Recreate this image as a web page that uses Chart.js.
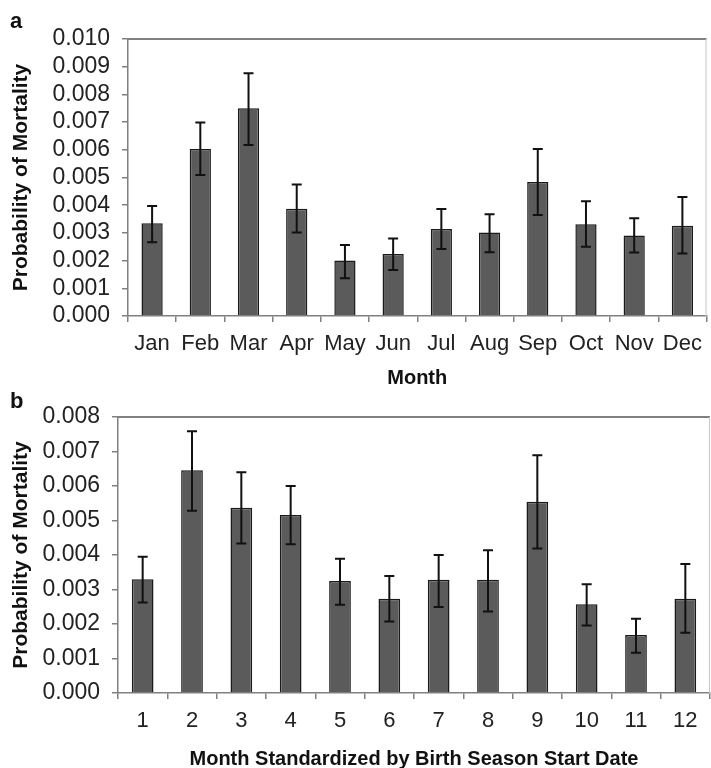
<!DOCTYPE html>
<html>
<head>
<meta charset="utf-8">
<script src="https://cdn.jsdelivr.net/npm/chart.js@4"></script>
<style>
  body { margin: 0; background: #fff; overflow: hidden; }
  .panel { position: absolute; left: 0; width: 711px; }
</style>
</head>
<body>
<div class="panel" style="top:0;height:390px"><canvas id="chartA" width="711" height="390"></canvas></div>
<div class="panel" style="top:390px;height:381px"><canvas id="chartB" width="711" height="381"></canvas></div>
<script>
// ----- panel a: calendar month -----
const months = ['Jan', 'Feb', 'Mar', 'Apr', 'May', 'Jun', 'Jul', 'Aug', 'Sep', 'Oct', 'Nov', 'Dec'];
const mortalityA = [0.00335, 0.00603, 0.00750, 0.00387, 0.00200, 0.00224, 0.00314, 0.00301, 0.00484, 0.00331, 0.00291, 0.00326];
const upperA = [0.00397, 0.00699, 0.00876, 0.00475, 0.00256, 0.00280, 0.00386, 0.00367, 0.00603, 0.00414, 0.00353, 0.00430];
const lowerA = [0.00266, 0.00509, 0.00617, 0.00301, 0.00136, 0.00166, 0.00242, 0.00230, 0.00365, 0.00250, 0.00229, 0.00226];
const yMaxA = 0.010;

// ----- panel b: month standardized by birth season -----
const birthMonths = ['1', '2', '3', '4', '5', '6', '7', '8', '9', '10', '11', '12'];
const mortalityB = [0.00330, 0.00646, 0.00537, 0.00516, 0.00325, 0.00273, 0.00328, 0.00328, 0.00554, 0.00257, 0.00168, 0.00273];
const upperB = [0.00395, 0.00759, 0.00640, 0.00600, 0.00389, 0.00339, 0.00400, 0.00414, 0.00689, 0.00315, 0.00215, 0.00374];
const lowerB = [0.00262, 0.00528, 0.00433, 0.00431, 0.00256, 0.00207, 0.00249, 0.00236, 0.00419, 0.00196, 0.00117, 0.00175];
const yMaxB = 0.008;

const yStep = 0.001;
const FONT = "'Liberation Sans', Arial, sans-serif";

// error bars drawn through the y scale
const errorBars = {
    id: 'errorBars',
    afterDatasetsDraw(chart, args, opts) {
        const ctx = chart.ctx;
        const y = chart.scales.y;
        const meta = chart.getDatasetMeta(0);
        ctx.save();
        ctx.strokeStyle = '#111';
        ctx.lineWidth = 2;
        meta.data.forEach((bar, i) => {
            const top = y.getPixelForValue(opts.upper[i]);
            const bot = y.getPixelForValue(opts.lower[i]);
            ctx.beginPath();
            ctx.moveTo(bar.x, top); ctx.lineTo(bar.x, bot);
            ctx.moveTo(bar.x - 5, top); ctx.lineTo(bar.x + 5, top);
            ctx.moveTo(bar.x - 5, bot); ctx.lineTo(bar.x + 5, bot);
            ctx.stroke();
        });
        ctx.restore();
    }
};

// top/right frame and the panel letter
const frame = {
    id: 'frame',
    afterDraw(chart, args, opts) {
        const ctx = chart.ctx;
        const a = chart.chartArea;
        ctx.save();
        ctx.strokeStyle = '#808080';
        ctx.lineWidth = 2;
        ctx.beginPath();
        ctx.moveTo(a.left, a.top); ctx.lineTo(a.right, a.top);
        ctx.stroke();
        ctx.strokeStyle = '#c8c8c8';
        ctx.lineWidth = 1;
        ctx.beginPath();
        ctx.moveTo(a.right - 0.5, a.top); ctx.lineTo(a.right - 0.5, a.bottom);
        ctx.stroke();
        ctx.fillStyle = '#111';
        ctx.font = 'bold 22px ' + FONT;
        ctx.textBaseline = 'alphabetic';
        ctx.fillText(opts.letter, opts.lx, opts.ly);
        ctx.restore();
    }
};

function makeChart(id, labels, values, upper, lower, yMax, xTitle, letter, layout) {
    return new Chart(document.getElementById(id), {
        type: 'bar',
        data: {
            labels: labels,
            datasets: [{
                data: values,
                backgroundColor: '#5b5b5b',
                borderColor: '#1a1a1a',
                borderWidth: 1.5,
                categoryPercentage: 1,
                barPercentage: 0.44
            }]
        },
        options: {
            responsive: false,
            animation: false,
            layout: { padding: { top: layout.top, right: 1, left: 0, bottom: 0 } },
            plugins: {
                legend: { display: false },
                tooltip: { enabled: false },
                errorBars: { upper: upper, lower: lower },
                frame: { letter: letter, lx: 10, ly: layout.letterY }
            },
            scales: {
                x: {
                    grid: { offset: true, drawOnChartArea: false, color: '#808080', tickLength: 6, lineWidth: 1.5 },
                    border: { color: '#808080', width: 1.5 },
                    ticks: { color: '#222', font: { family: FONT, size: 22 }, padding: 9, maxRotation: 0, autoSkip: false },
                    title: { display: true, text: xTitle, color: '#111', font: { family: FONT, size: 20, weight: 'bold' }, padding: { top: 0, bottom: 0 } },
                    afterFit: s => { s.height = layout.xh; }
                },
                y: {
                    min: 0,
                    max: yMax,
                    grid: { drawOnChartArea: false, color: '#808080', tickLength: 6, lineWidth: 1.5 },
                    border: { color: '#808080', width: 1.5 },
                    ticks: { stepSize: yStep, autoSkip: false, maxTicksLimit: 20, color: '#222',
                             font: { family: FONT, size: 23, lineHeight: 1 }, padding: 12,
                             callback: v => v.toFixed(3) },
                    title: { display: true, text: 'Probability of Mortality', color: '#111', font: { family: FONT, size: 21, weight: 'bold' }, padding: { top: 9, bottom: 0 } },
                    afterFit: s => { s.width = layout.yw; }
                }
            }
        },
        plugins: [errorBars, frame]
    });
}

makeChart('chartA', months, mortalityA, upperA, lowerA, yMaxA, 'Month', 'a',
    { top: 39, xh: 74, yw: 128, letterY: 28 });
makeChart('chartB', birthMonths, mortalityB, upperB, lowerB, yMaxB, 'Month Standardized by Birth Season Start Date', 'b',
    { top: 27, xh: 78, yw: 118, letterY: 18 });
</script>
</body>
</html>
